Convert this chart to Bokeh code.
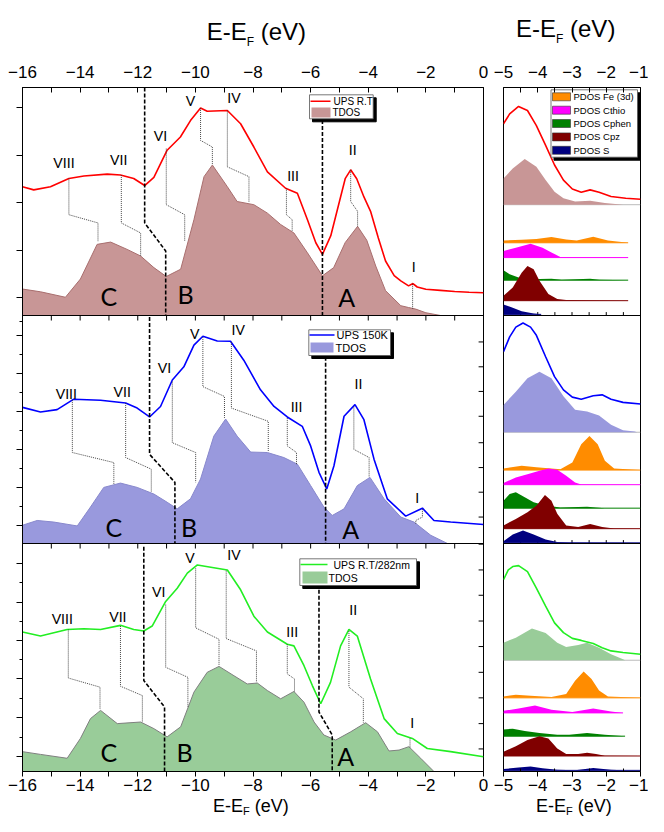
from bokeh.plotting import figure
from bokeh.models import FixedTicker, LinearAxis, Span, Range1d, CustomJSTickFormatter, Div
from bokeh.layouts import row, column
from bokeh.embed import file_html
from bokeh.resources import INLINE
from bokeh.core.properties import value

# ======================= DATA =======================
# Left column: x = E - EF (eV); intensities in a.u., 0-100 within each stacked sub-panel
ups_rt_E = [-16.0, -15.61, -15.03, -14.39, -13.87, -13.06, -12.60, -12.14, -11.76, -11.44, -10.98, -10.52,
            -10.17, -9.82, -9.59, -8.89, -8.43, -7.97, -7.50, -6.87, -6.46, -6.11, -5.82, -5.59, -5.3, -5.0,
            -4.8, -4.61, -4.4, -4.15, -3.92, -3.65, -3.40, -3.1, -2.87, -2.6, -2.45, -2.3, -2.0, -1.5, -1.0,
            -0.5, 0.0]
ups_rt_I = [56.5, 55.1, 56.5, 60.1, 61.2, 62.0, 61.6, 60.1, 57.0, 60.6, 72.5, 78.3, 85.5, 91.0, 89.6, 89.9,
            84.1, 73.9, 63.0, 55.8, 53.6, 42.0, 31.9, 26.8, 35.0, 50.0, 60.0, 63.9, 60.0, 52.0, 45.7, 34.0,
            23.9, 17.5, 15.2, 13.0, 14.0, 12.5, 11.5, 11.0, 10.5, 10.2, 10.0]
tdos_rt_E = [-16.0, -15.375, -14.51, -13.99, -13.41, -12.94, -12.37, -11.90, -11.44, -11.01, -10.51, -10.05,
             -9.70, -9.41, -8.89, -8.55, -7.97, -7.50, -7.04, -6.58, -6.11, -5.59, -5.2, -4.8, -4.37, -4.05,
             -3.74, -3.40, -2.87, -2.6, -2.35, -2.0, -1.49]
tdos_rt_I = [11.6, 10.4, 8.0, 16.0, 31.2, 32.2, 29.0, 26.1, 21.0, 17.1, 20.3, 42.0, 60.9, 66.0, 56.5, 50.0,
             48.6, 44.9, 39.9, 36.2, 27.5, 17.4, 21.0, 32.0, 39.1, 33.0, 21.7, 10.9, 4.3, 3.5, 2.8, 1.2, 0.0]

ups_150_E = [-16.0, -15.375, -14.80, -14.22, -13.29, -12.42, -12.02, -11.59, -11.21, -10.80, -10.40, -10.05,
             -9.74, -9.24, -8.78, -8.32, -7.74, -7.27, -6.81, -6.29, -6.00, -5.71, -5.44, -5.19, -4.84, -4.46,
             -4.15, -3.80, -3.34, -2.70, -2.12, -1.72, -1.14, 0.0]
ups_150_I = [59.7, 57.7, 58.7, 63.3, 62.8, 61.6, 59.4, 55.5, 60.1, 71.7, 77.5, 87.0, 90.9, 88.8, 88.7, 80.4,
             67.4, 60.1, 55.5, 51.4, 42.8, 31.2, 23.9, 34.1, 55.8, 60.9, 54.3, 37.0, 19.6, 12.0, 15.5, 10.1,
             9.4, 8.3]
tdos_150_E = [-16.0, -15.49, -14.91, -14.10, -13.64, -13.18, -12.60, -12.02, -11.44, -10.98, -10.63, -10.17,
              -9.82, -9.36, -8.95, -8.55, -8.08, -7.50, -6.93, -6.46, -6.00, -5.54, -5.25, -4.84, -4.38, -3.94,
              -3.45, -2.87, -2.41, -1.83, -1.25]
tdos_150_I = [8.0, 10.1, 9.4, 7.7, 16.0, 24.6, 26.5, 24.6, 21.7, 18.1, 15.2, 19.6, 28.3, 47.1, 54.6, 47.1,
              40.1, 39.9, 37.7, 34.8, 25.4, 16.0, 12.3, 15.2, 25.4, 29.0, 19.6, 11.6, 9.4, 3.6, 0.0]

ups_282_E = [-16.0, -15.375, -14.45, -13.87, -13.29, -12.60, -12.14, -11.79, -11.50, -11.03, -10.63, -10.28,
             -9.93, -9.36, -8.89, -8.43, -7.97, -7.50, -6.81, -6.58, -6.23, -5.94, -5.65, -5.31, -4.96, -4.67,
             -4.38, -3.92, -3.45, -2.99, -2.47, -1.95, -1.14, 0.0]
ups_282_I = [61.2, 59.4, 62.3, 62.6, 62.3, 64.1, 62.3, 61.6, 63.8, 74.6, 80.4, 87.0, 90.6, 89.4, 88.4, 79.7,
             68.1, 61.2, 55.8, 55.1, 46.4, 37.7, 29.7, 39.1, 55.1, 62.3, 59.4, 40.6, 23.2, 16.7, 14.5, 10.1,
             8.7, 6.5]
tdos_282_E = [-16.0, -15.375, -14.45, -13.99, -13.64, -13.29, -12.71, -11.90, -11.44, -10.98, -10.51, -10.05,
              -9.59, -9.18, -8.66, -8.20, -7.85, -7.50, -7.04, -6.58, -6.23, -5.88, -5.54, -5.13, -4.61, -4.09,
              -3.68, -3.28, -2.93, -2.59, -2.18, -1.72]
tdos_282_I = [8.7, 7.5, 5.8, 14.5, 23.2, 26.8, 21.0, 21.7, 18.8, 15.2, 19.6, 34.8, 43.5, 46.1, 42.0, 38.4,
              38.8, 35.5, 31.9, 35.1, 30.4, 21.7, 16.0, 13.8, 17.4, 21.4, 17.4, 9.0, 9.4, 10.9, 5.8, 0.0]

# Feature labels and their positions (E, a.u.)
feature_names = ["VIII", "VII", "VI", "V", "IV", "III", "II", "I"]
region_names = ["C", "B", "A"]
p1_feat_E = [-14.56, -12.66, -11.21, -10.17, -8.66, -6.61, -4.54, -2.42]
p1_feat_I = [67.0, 68.4, 79.0, 94.2, 95.7, 61.6, 72.6, 21.7]
p2_feat_E = [-14.48, -12.54, -11.07, -10.02, -8.51, -6.49, -4.34, -2.30]
p2_feat_I = [66.0, 66.7, 77.3, 92.3, 93.8, 60.1, 70.0, 20.3]
p3_feat_E = [-14.62, -12.69, -11.27, -10.19, -8.66, -6.64, -4.52, -2.47]
p3_feat_I = [67.0, 68.1, 79.0, 93.9, 95.3, 61.6, 71.0, 21.4]
p1_reg_E = [-13.0, -10.34, -4.75]
p1_reg_I = [8.7, 9.4, 8.3]
p2_reg_E = [-12.83, -10.22, -4.61]
p2_reg_I = [7.2, 7.2, 6.5]
p3_reg_E = [-13.0, -10.375, -4.78]
p3_reg_I = [8.4, 8.7, 7.0]

# Dotted connectors UPS feature -> TDOS feature: E_ups, E_tdos, I_top, I_bend1, I_bend2, I_bottom
p1_conn = [(-14.39, -13.38, 60.1, 44.2, 40.6, 32.6), (-12.57, -11.90, 61.6, 40.6, 36.2, 26.1),
           (-11.01, -10.37, 73.2, 48.6, 44.2, 32.6), (-9.82, -9.41, 91.0, 76.8, 73.9, 66.0),
           (-8.89, -8.14, 89.9, 65.2, 60.9, 49.6), (-6.84, -6.64, 55.8, 44.2, 42.0, 37.0),
           (-4.61, -4.37, 63.9, 50.0, 45.7, 39.1), (-2.46, -2.46, 13.9, 8.0, 6.0, 3.0)]
p2_conn = [(-14.27, -12.83, 63.0, 39.9, 35.5, 26.1), (-12.42, -11.53, 61.6, 37.7, 32.6, 22.5),
           (-10.80, -9.99, 71.0, 44.2, 39.9, 26.8), (-9.74, -8.99, 90.6, 68.8, 64.5, 55.1),
           (-8.75, -7.47, 88.4, 59.4, 53.6, 40.6), (-6.81, -6.49, 55.1, 42.8, 39.9, 34.8),
           (-4.50, -3.97, 60.1, 41.3, 37.7, 29.0), (-2.12, -2.35, 15.2, 11.6, 10.1, 8.7)]
p3_conn = [(-14.41, -13.31, 62.3, 41.0, 37.0, 27.5), (-12.60, -11.84, 63.8, 37.4, 33.3, 21.7),
           (-11.03, -10.26, 73.2, 45.7, 41.3, 28.3), (-9.99, -9.18, 89.1, 63.0, 58.0, 46.4),
           (-8.93, -7.88, 88.1, 58.3, 52.9, 39.1), (-6.81, -6.56, 55.8, 42.8, 40.6, 35.1),
           (-4.67, -4.17, 61.6, 37.0, 31.9, 21.4), (-2.55, -2.55, 14.5, 12.5, 12.5, 10.4)]

# Dashed region boundaries (E, a.u.)
p1_div = [([-11.76, -11.76, -11.03, -11.03], [100, 40.6, 28.3, 0]), ([-5.59, -5.59], [85.7, 0])]
p2_div = [([-11.59, -11.59, -10.71, -10.71], [99.3, 39.1, 26.8, 0]), ([-5.48, -5.48], [81.9, 0])]
p3_div = [([-11.79, -11.79, -11.07, -11.07], [98.6, 39.9, 28.3, 0]),
          ([-5.71, -5.71, -5.25, -5.25], [79.7, 26.1, 16.0, 0])]

# Right column: x = E - EF (eV) from -5 to -1
r1_ups_E = [-5.0, -4.82, -4.56, -4.30, -4.04, -3.77, -3.51, -3.25, -2.99, -2.73, -2.47, -2.21, -1.86, -1.43, -1.0]
r1_ups_I = [84.1, 88.4, 91.7, 89.9, 83.3, 74.6, 66.0, 59.4, 55.5, 54.1, 55.1, 54.1, 52.2, 51.4, 51.0]
r1_tdos_E = [-5.0, -4.73, -4.38, -4.04, -3.77, -3.51, -3.25, -2.91, -2.47, -2.04, -1.51]
r1_tdos_I = [11.5, 15.9, 20.0, 16.6, 10.8, 5.7, 2.8, 1.4, 1.7, 0.7, 0.0]
r1_fe_E = [-5.0, -4.47, -4.04, -3.60, -3.17, -2.86, -2.38, -1.95, -1.36]
r1_fe_I = [1.0, 1.3, 1.7, 2.5, 1.4, 1.0, 2.6, 1.0, 0.0]
r1_cthio_E = [-5.0, -4.64, -4.21, -3.86, -3.60, -3.34, -1.36]
r1_cthio_I = [2.9, 4.3, 6.1, 4.3, 2.2, 0.3, 0.0]
r1_cphen_E = [-5.0, -4.82, -4.56, -4.30, -3.60, -3.30, -2.47, -2.20, -1.36]
r1_cphen_I = [4.3, 2.6, 1.2, 0.4, 0.6, 0.2, 0.6, 0.2, 0.0]
r1_cpz_E = [-5.0, -4.73, -4.47, -4.30, -4.12, -3.95, -3.69, -3.43, -3.17, -1.36]
r1_cpz_I = [2.2, 5.8, 12.3, 15.2, 13.8, 8.7, 2.9, 0.7, 0.3, 0.0]
r1_s_E = [-5.0, -4.73, -4.47, -4.12, -3.90]
r1_s_I = [4.3, 2.9, 1.4, 0.4, 0.0]

r2_ups_E = [-5.0, -4.82, -4.64, -4.43, -4.21, -4.04, -3.77, -3.51, -3.25, -2.99, -2.73, -2.38, -2.12, -1.86, -1.51, -1.0]
r2_ups_I = [84.1, 90.6, 94.9, 96.7, 94.9, 91.3, 81.9, 73.2, 67.4, 64.2, 63.3, 64.8, 65.2, 63.3, 61.9, 61.2]
r2_tdos_E = [-5.0, -4.64, -4.30, -3.95, -3.60, -3.25, -2.91, -2.56, -2.21, -1.86, -1.51, -1.17, -1.10]
r2_tdos_I = [12.0, 17.8, 23.7, 26.5, 23.7, 15.8, 9.9, 9.1, 7.3, 3.3, 0.9, 0.3, 0.0]
r2_fe_E = [-5.0, -4.47, -4.04, -3.34, -2.99, -2.73, -2.49, -2.25, -2.04, -1.77, -1.0]
r2_fe_I = [0.7, 1.9, 1.2, 0.4, 3.3, 11.3, 14.9, 11.3, 4.1, 0.7, 0.0]
r2_cthio_E = [-5.0, -4.64, -4.30, -3.95, -3.69, -3.43, -3.17, -2.91, -2.73, -1.0]
r2_cthio_I = [0.7, 3.2, 4.6, 6.1, 7.1, 6.5, 3.9, 1.0, 0.1, 0.0]
r2_cphen_E = [-5.0, -4.82, -4.64, -4.38, -4.12, -3.77, -3.34, -2.56, -2.04, -1.0]
r2_cphen_I = [3.3, 6.2, 7.0, 4.8, 2.6, 1.2, 0.3, 0.6, 0.0, 0.0]
r2_cpz_E = [-5.0, -4.64, -4.30, -4.04, -3.79, -3.60, -3.43, -3.17, -2.82, -2.47, -2.12, -1.77, -1.0]
r2_cpz_I = [1.4, 4.3, 7.2, 10.1, 14.8, 12.3, 6.5, 1.4, 0.7, 2.0, 0.7, 0.1, 0.0]
r2_s_E = [-5.0, -4.73, -4.43, -4.12, -3.77, -3.43, -3.08, -1.0]
r2_s_I = [0.7, 3.6, 5.4, 3.6, 1.4, 0.4, 0.1, 0.0]

r3_ups_E = [-5.0, -4.86, -4.73, -4.56, -4.30, -4.04, -3.77, -3.51, -3.25, -2.99, -2.73, -2.38, -2.12, -1.86, -1.51, -1.0]
r3_ups_I = [84.1, 88.4, 89.9, 90.3, 87.7, 80.4, 72.5, 65.2, 60.9, 58.4, 57.5, 56.1, 54.3, 52.9, 52.2, 51.4]
r3_tdos_E = [-5.0, -4.64, -4.17, -3.77, -3.43, -3.17, -2.82, -2.56, -2.21, -1.86, -1.51, -1.45]
r3_tdos_I = [7.7, 9.9, 13.9, 12.0, 7.7, 5.8, 6.7, 7.7, 5.5, 2.6, 0.4, 0.0]
r3_fe_E = [-5.0, -4.64, -4.21, -3.60, -3.17, -2.91, -2.66, -2.43, -2.21, -1.95, -1.0]
r3_fe_I = [0.6, 1.4, 0.9, 0.4, 1.7, 7.5, 11.6, 8.3, 3.2, 0.6, 0.0]
r3_cthio_E = [-5.0, -4.56, -4.08, -3.60, -2.99, -2.38, -1.86, -1.51]
r3_cthio_I = [0.9, 1.9, 3.3, 1.4, 0.4, 1.9, 0.6, 0.0]
r3_cphen_E = [-5.0, -4.73, -4.38, -3.95, -3.43, -3.08, -2.56, -2.04, -1.45]
r3_cphen_I = [2.9, 3.3, 2.3, 1.4, 0.6, 0.6, 1.4, 0.6, 0.0]
r3_cpz_E = [-5.0, -4.64, -4.30, -3.95, -3.69, -3.43, -3.17, -2.82, -2.56, -2.30, -2.04, -1.0]
r3_cpz_I = [1.9, 4.3, 7.0, 8.7, 7.7, 3.3, 0.9, 0.9, 1.4, 0.9, 0.1, 0.0]
r3_s_E = [-5.0, -4.56, -4.21, -3.86, -3.43, -2.91, -2.38, -1.86, -1.51, -1.0]
r3_s_I = [0.6, 1.2, 1.7, 0.9, 0.3, 0.1, 1.0, 0.3, 0.0, 0.0]

left_major_ticks = [-16, -14, -12, -10, -8, -6, -4, -2, 0]
left_minor_ticks = [-15, -13, -11, -9, -7, -5, -3, -1]
right_major_ticks = [-5, -4, -3, -2, -1]
right_minor_ticks = [-4.5, -3.5, -2.5, -1.5]

ups_labels = ["UPS R.T", "UPS 150K", "UPS R.T/282nm"]
pdos_labels = ["PDOS Fe (3d)", "PDOS Cthio", "PDOS Cphen", "PDOS Cpz", "PDOS S"]
axis_title = ["E-E", "F", " (eV)"]

# ======================= LAYOUT / STYLE (pixel positions within the layout) =======================
TOTAL_W, TOTAL_H = 648, 816
HEAD_BOT = 46                  # header strip 0..46
MAIN_BOT = 797                 # main row 46..797, footer 797..816
FT, FB = 87.0, 771.0           # frame top / bottom
L_RIGHT = 488                  # left figure canvas 0..488
LX0, LX1 = 22.0, 483.0         # left frame
RX0, RX1 = 503.0, 640.0        # right frame (right canvas 488..648)
HM = MAIN_BOT - HEAD_BOT
FONT = "Liberation Sans"
NUM_FONT = "Lato"
TICK_FS = "17px"


def py2y(py):
    return (FB - py) * 300.0 / (FB - FT)


def lx(px):
    return -16 + (px - LX0) * 16.0 / (LX1 - LX0)


def rx(px):
    return -5 + (px - RX0) * 4.0 / (RX1 - RX0)


UPS_COLORS = ["#ff0000", "#0000ff", "#22ee22"]
TDOS_FILL = ["#c89696", "#9999dd", "#99cc99"]
TDOS_EDGE = ["#a86e6e", "#8888cc", "#7f7f7f"]
PDOS_COLORS = ["#ff8c00", "#ff00ff", "#008000", "#800000", "#000080"]
OFFS = [200, 100, 0]


def base_fig(width, xr, xt_major, xt_minor, mb_left, mb_right, ylabel_axis):
    p = figure(width=width, height=HM, x_range=Range1d(*xr), y_range=Range1d(0, 300), title=None,
               x_axis_location="above", y_axis_location="left" if ylabel_axis else None,
               output_backend="svg", toolbar_location=None,
               min_border_left=mb_left, min_border_right=mb_right,
               min_border_top=int(FT - HEAD_BOT), min_border_bottom=int(MAIN_BOT - FB))
    p.xgrid.visible = False
    p.ygrid.visible = False
    p.outline_line_color = "black"
    p.outline_line_width = 1
    p.background_fill_color = "white"
    p.border_fill_color = "white"
    top = p.xaxis[0]
    bot = LinearAxis()
    p.add_layout(bot, "below")
    for ax, tin, tout, standoff in [(top, 5, 0, 10), (bot, 0, 5, 2)]:
        ax.ticker = FixedTicker(ticks=xt_major, minor_ticks=xt_minor)
        ax.major_tick_in = tin
        ax.major_tick_out = tout
        ax.minor_tick_in = tin
        ax.minor_tick_out = tout
        ax.major_label_text_font = FONT
        ax.major_label_text_font_size = TICK_FS
        ax.major_label_text_color = "black"
        ax.major_label_standoff = standoff
        ax.axis_line_color = "black"
        ax.major_tick_line_color = "black"
        ax.minor_tick_line_color = "black"
    return p


def legend_box(p, x_of, x0, y0, x1, y1, shadow=3):
    p.quad(left=[x_of(x0 + shadow)], right=[x_of(x1 + shadow)], top=[py2y(y0 + shadow)],
           bottom=[py2y(y1 + shadow)], fill_color="black", line_color="black")
    p.quad(left=[x_of(x0)], right=[x_of(x1)], top=[py2y(y0)], bottom=[py2y(y1)],
           fill_color="white", line_color="#555555", line_width=0.8)


def title_div(top, bot, items):
    """items: (left px, baseline px, font px, subscript font px, subscript drop px)"""
    h = bot - top
    parts = []
    for left, base, fs, sfs, drop in items:
        lh = round(fs * 1.2)
        t = base - top - ((lh - 1.117 * fs) / 2 + 0.905 * fs)
        parts.append(
            f'<div style="position:absolute;left:{left:.1f}px;top:{t:.1f}px;white-space:nowrap;'
            f'font-family:\'{FONT}\';font-size:{fs}px;line-height:{lh}px;color:#000">'
            f'{axis_title[0]}<span style="font-size:{sfs}px;position:relative;top:{drop}px">'
            f'{axis_title[1]}</span>{axis_title[2].replace(" ", "&nbsp;")}</div>')
    html = (f'<div style="position:relative;width:{TOTAL_W}px;height:{h}px">' + "".join(parts) + "</div>")
    return Div(text=html, width=TOTAL_W, height=h, margin=0)


# ======================= LEFT FIGURE =======================
pl = base_fig(L_RIGHT, (-16, 0), left_major_ticks, left_minor_ticks, int(LX0), int(L_RIGHT - LX1), True)
yax = pl.yaxis[0]
yax.ticker = FixedTicker(
    ticks=[291.3, 270.3, 249.6, 228.7, 208.0, 191.3, 174.7, 158.0, 141.3, 124.7, 108.0,
           91.3, 74.2, 57.3, 40.6, 23.5, 6.5],
    minor_ticks=[197.5, 183.0, 166.3, 149.7, 133.0, 116.3, 82.8, 65.8, 49.0, 32.1, 15.0])
yax.formatter = CustomJSTickFormatter(code="return ''")
yax.major_tick_out = 6
yax.major_tick_in = 0
yax.minor_tick_out = 3
yax.minor_tick_in = 0
yax.major_label_standoff = 0
yax.major_label_text_font_size = "1px"
yax.axis_line_color = "black"

for loc in (100, 200):
    pl.add_layout(Span(location=loc, dimension="width", line_color="black", line_width=1))
sep_x = [float(v) for v in range(-15, 0)]
pl.segment(x0=sep_x * 2, x1=sep_x * 2, y0=[200] * 15 + [100] * 15, y1=[197.8] * 15 + [97.8] * 15,
           line_color="black", line_width=1)
rt_ticks = [188.4, 177.5, 166.7, 155.8, 144.2, 133.3, 122.5, 111.6,
            99.7, 88.4, 77.3, 66.0, 54.8, 43.5, 32.3, 21.0, 9.9]
pl.segment(x0=[0] * len(rt_ticks), x1=[-0.17] * len(rt_ticks), y0=rt_ticks, y1=rt_ticks,
           line_color="black", line_width=1)

left_sets = [
    (ups_rt_E, ups_rt_I, tdos_rt_E, tdos_rt_I, p1_conn, p1_div, p1_feat_E, p1_feat_I, p1_reg_E, p1_reg_I),
    (ups_150_E, ups_150_I, tdos_150_E, tdos_150_I, p2_conn, p2_div, p2_feat_E, p2_feat_I, p2_reg_E, p2_reg_I),
    (ups_282_E, ups_282_I, tdos_282_E, tdos_282_I, p3_conn, p3_div, p3_feat_E, p3_feat_I, p3_reg_E, p3_reg_I),
]
for k, (uE, uI, tE, tI, conn, div, fE, fI, rE, rI) in enumerate(left_sets):
    off = OFFS[k]
    pl.varea(x=tE, y1=[off] * len(tE), y2=[off + v for v in tI], fill_color=TDOS_FILL[k])
    pl.line(tE, [off + v for v in tI], line_color=TDOS_EDGE[k], line_width=1)
    pl.line(uE, [off + v for v in uI], line_color=UPS_COLORS[k], line_width=1.6)
    xs = [[c[0], c[0], c[1], c[1]] for c in conn]
    ys = [[off + c[2], off + c[3], off + c[4], off + c[5]] for c in conn]
    pl.multi_line(xs, ys, line_color="#333333", line_width=0.9, line_dash="1 1")
    pl.multi_line([d[0] for d in div], [[off + v for v in d[1]] for d in div],
                  line_color="black", line_width=1.6, line_dash="4 2")
    pl.text(x=fE, y=[off + v for v in fI], text=feature_names, text_font=value(NUM_FONT),
            text_font_size=value("14px"), text_align="center", text_baseline="middle", text_color="black")
    pl.text(x=rE, y=[off + v for v in rI], text=region_names, text_font=value(NUM_FONT),
            text_font_size=value("25px"), text_align="center", text_baseline="middle", text_color="black")

leg_geo = [
    dict(box=(309, 94.3, 372.7, 118.3), line=(310, 330, 100.7), sw=(311, 107, 330, 117), tx=333, ty1=100.7,
         tx2=332, ty2=112, fs="10px"),
    dict(box=(308.3, 329.3, 390, 355), line=(309, 334, 334.5), sw=(310, 342, 333, 352), tx=336, ty1=334.5,
         tx2=335, ty2=347.5, fs="11px"),
    dict(box=(299.3, 558.3, 416, 585), line=(300, 327, 564), sw=(302, 571, 327, 583), tx=333, ty1=564,
         tx2=328, ty2=577, fs="10.5px"),
]
for k, g in enumerate(leg_geo):
    legend_box(pl, lx, *g["box"])
    l0, l1, ly_ = g["line"]
    pl.line([lx(l0), lx(l1)], [py2y(ly_)] * 2, line_color=UPS_COLORS[k], line_width=1.6)
    s0, s1, s2, s3 = g["sw"]
    pl.quad(left=[lx(s0)], right=[lx(s2)], top=[py2y(s1)], bottom=[py2y(s3)], fill_color=TDOS_FILL[k],
            line_color=None)
    pl.text(x=[lx(g["tx"]), lx(g["tx2"])], y=[py2y(g["ty1"]), py2y(g["ty2"])], text=[ups_labels[k], "TDOS"],
            text_font=value(FONT), text_font_size=value(g["fs"]), text_baseline="middle", text_align="left",
            text_color="black")

# ======================= RIGHT FIGURE =======================
pr = base_fig(TOTAL_W - L_RIGHT, (-5, -1), right_major_ticks, right_minor_ticks,
              int(RX0 - L_RIGHT), int(TOTAL_W - RX1), False)
pr.xaxis[1].minor_tick_out = 0
pr.xaxis[1].minor_tick_in = 3
for loc in (100, 200):
    pr.add_layout(Span(location=loc, dimension="width", line_color="black", line_width=1))
sx = [-4.5, -4.0, -3.5, -3.0, -2.5, -2.0, -1.5]
pr.segment(x0=sx * 2, x1=sx * 2, y0=[200] * 7 + [100] * 7, y1=[201.5] * 7 + [101.5] * 7,
           line_color="black", line_width=1)

right_sets = [
    (r1_ups_E, r1_ups_I, r1_tdos_E, r1_tdos_I,
     [(r1_fe_E, r1_fe_I), (r1_cthio_E, r1_cthio_I), (r1_cphen_E, r1_cphen_I), (r1_cpz_E, r1_cpz_I), (r1_s_E, r1_s_I)]),
    (r2_ups_E, r2_ups_I, r2_tdos_E, r2_tdos_I,
     [(r2_fe_E, r2_fe_I), (r2_cthio_E, r2_cthio_I), (r2_cphen_E, r2_cphen_I), (r2_cpz_E, r2_cpz_I), (r2_s_E, r2_s_I)]),
    (r3_ups_E, r3_ups_I, r3_tdos_E, r3_tdos_I,
     [(r3_fe_E, r3_fe_I), (r3_cthio_E, r3_cthio_I), (r3_cphen_E, r3_cphen_I), (r3_cpz_E, r3_cpz_I), (r3_s_E, r3_s_I)]),
]
TDOS_BASE = [48.6, 48.8, 48.8]
PDOS_BASE = [[31.9, 25.4, 15.5, 6.5, 0.5], [32.2, 25.8, 15.5, 6.5, 0.3], [32.3, 25.7, 15.5, 6.8, 0.5]]
for k, (uE, uI, tE, tI, pd) in enumerate(right_sets):
    off = OFFS[k]
    tb = off + TDOS_BASE[k]
    pr.line([-5, -1], [tb, tb], line_color="#aaaaaa", line_width=0.8)
    pr.varea(x=tE, y1=[tb] * len(tE), y2=[tb + v for v in tI], fill_color=TDOS_FILL[k])
    for j, (e, iv) in enumerate(pd):
        b = off + PDOS_BASE[k][j]
        pr.varea(x=e, y1=[b] * len(e), y2=[b + v for v in iv], fill_color=PDOS_COLORS[j])
        pr.line([e[0], e[-1]], [b, b], line_color=PDOS_COLORS[j], line_width=1)
    pr.line(uE, [off + v for v in uI], line_color=UPS_COLORS[k], line_width=1.6)

legend_box(pr, rx, 550.5, 89.3, 637.0, 156.7, shadow=3.0)
rows_y = [96.3, 109.7, 123.0, 136.4, 149.8]
pr.quad(left=[rx(552.0)] * 5, right=[rx(570.0)] * 5, top=[py2y(v - 4) for v in rows_y],
        bottom=[py2y(v + 4) for v in rows_y], fill_color=PDOS_COLORS, line_color="#333333", line_width=0.6)
pr.text(x=[rx(573.0)] * 5, y=[py2y(v) for v in rows_y], text=pdos_labels, text_font=value(FONT),
        text_font_size=value("9.5px"), text_baseline="middle", text_align="left", text_color="black")

# ======================= TITLE STRIPS (HTML text, with a real subscript) =======================
head = title_div(0, HEAD_BOT, [(206.7, 39.3, 24, 12, 6), (516.0, 36.7, 24, 12, 6)])
foot = title_div(MAIN_BOT, TOTAL_H, [(213.0, 812.0, 18, 11, 3), (536.0, 812.0, 18, 11, 3)])

layout = column(head, row(pl, pr), foot)
open("out.html", "w").write(file_html(layout, INLINE))
